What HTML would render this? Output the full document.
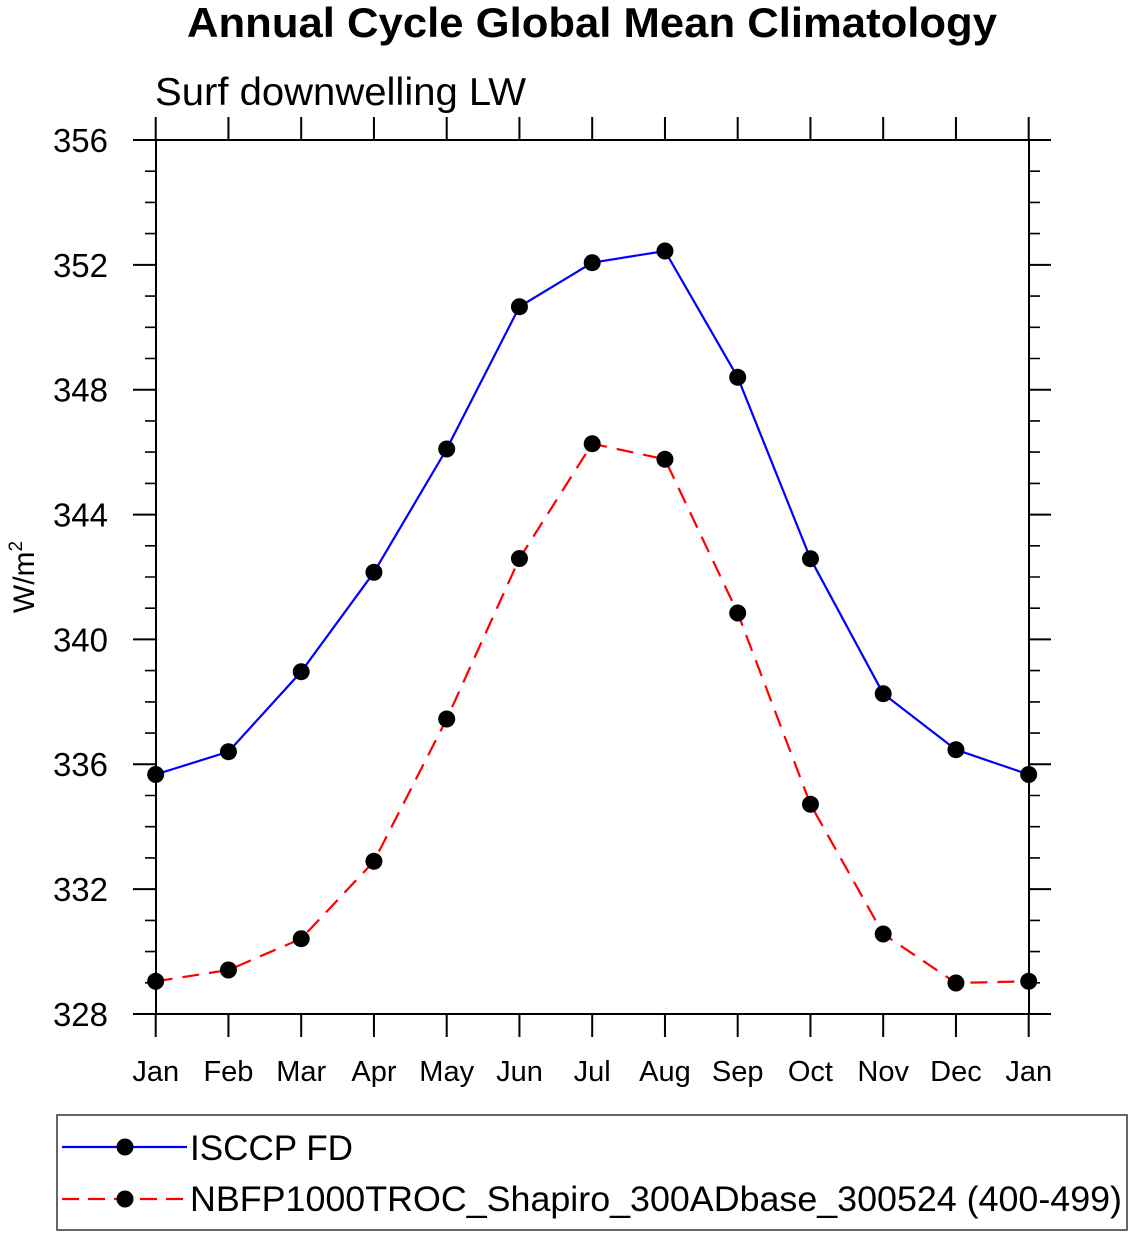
<!DOCTYPE html>
<html>
<head>
<meta charset="utf-8">
<style>
  html,body{margin:0;padding:0;background:#fff;}
  svg{display:block;}
  text{font-family:"Liberation Sans", Arial, Helvetica, sans-serif;fill:#000;}
</style>
</head>
<body>
<svg width="1133" height="1237" viewBox="0 0 1133 1237" xmlns="http://www.w3.org/2000/svg">
  <rect x="0" y="0" width="1133" height="1237" fill="#fff"/>

  <!-- Titles -->
  <text x="187" y="37" font-size="42" font-weight="bold" textLength="810" lengthAdjust="spacingAndGlyphs">Annual Cycle Global Mean Climatology</text>
  <text x="155" y="105" font-size="39" textLength="371" lengthAdjust="spacingAndGlyphs">Surf downwelling LW</text>

  <!-- Y axis label -->
  <text transform="translate(34,577) rotate(-90)" font-size="30" text-anchor="middle">W/m<tspan font-size="19" dy="-12">2</tspan></text>

  <!-- Plot frame -->
  <rect x="156" y="140" width="873" height="874" fill="none" stroke="#000" stroke-width="2"/>

  <!-- Y ticks -->
  <g stroke="#000" stroke-width="2">
    <line x1="133" y1="140" x2="156" y2="140"/>
    <line x1="133" y1="264.9" x2="156" y2="264.9"/>
    <line x1="133" y1="389.7" x2="156" y2="389.7"/>
    <line x1="133" y1="514.6" x2="156" y2="514.6"/>
    <line x1="133" y1="639.4" x2="156" y2="639.4"/>
    <line x1="133" y1="764.3" x2="156" y2="764.3"/>
    <line x1="133" y1="889.1" x2="156" y2="889.1"/>
    <line x1="133" y1="1014" x2="156" y2="1014"/>
    <line x1="1029" y1="140" x2="1051" y2="140"/>
    <line x1="1029" y1="264.9" x2="1051" y2="264.9"/>
    <line x1="1029" y1="389.7" x2="1051" y2="389.7"/>
    <line x1="1029" y1="514.6" x2="1051" y2="514.6"/>
    <line x1="1029" y1="639.4" x2="1051" y2="639.4"/>
    <line x1="1029" y1="764.3" x2="1051" y2="764.3"/>
    <line x1="1029" y1="889.1" x2="1051" y2="889.1"/>
    <line x1="1029" y1="1014" x2="1051" y2="1014"/>
  </g>
  <g stroke="#000" stroke-width="1.6">
    <path d="
      M145 171.2H156 M145 202.4H156 M145 233.6H156
      M145 296.1H156 M145 327.3H156 M145 358.5H156
      M145 420.9H156 M145 452.1H156 M145 483.4H156
      M145 545.8H156 M145 577.0H156 M145 608.2H156
      M145 670.6H156 M145 701.9H156 M145 733.1H156
      M145 795.5H156 M145 826.7H156 M145 857.9H156
      M145 920.4H156 M145 951.6H156 M145 982.8H156
      M1029 171.2H1040 M1029 202.4H1040 M1029 233.6H1040
      M1029 296.1H1040 M1029 327.3H1040 M1029 358.5H1040
      M1029 420.9H1040 M1029 452.1H1040 M1029 483.4H1040
      M1029 545.8H1040 M1029 577.0H1040 M1029 608.2H1040
      M1029 670.6H1040 M1029 701.9H1040 M1029 733.1H1040
      M1029 795.5H1040 M1029 826.7H1040 M1029 857.9H1040
      M1029 920.4H1040 M1029 951.6H1040 M1029 982.8H1040" fill="none"/>
  </g>

  <!-- X ticks top and bottom -->
  <g stroke="#000" stroke-width="2">
    <path d="
      M155.7 117V140 M228.45 117V140 M301.2 117V140 M373.95 117V140 M446.7 117V140 M519.45 117V140 M592.2 117V140
      M664.95 117V140 M737.7 117V140 M810.45 117V140 M883.2 117V140 M955.95 117V140 M1028.7 117V140
      M155.7 1014V1037 M228.45 1014V1037 M301.2 1014V1037 M373.95 1014V1037 M446.7 1014V1037 M519.45 1014V1037 M592.2 1014V1037
      M664.95 1014V1037 M737.7 1014V1037 M810.45 1014V1037 M883.2 1014V1037 M955.95 1014V1037 M1028.7 1014V1037" fill="none"/>
  </g>

  <!-- Y tick labels -->
  <g font-size="33" text-anchor="end">
    <text x="108" y="152">356</text>
    <text x="108" y="277">352</text>
    <text x="108" y="401.5">348</text>
    <text x="108" y="526.5">344</text>
    <text x="108" y="651.5">340</text>
    <text x="108" y="776">336</text>
    <text x="108" y="901">332</text>
    <text x="108" y="1026">328</text>
  </g>

  <!-- X tick labels -->
  <g font-size="29" text-anchor="middle">
    <text x="155.7" y="1081">Jan</text>
    <text x="228.45" y="1081">Feb</text>
    <text x="301.2" y="1081">Mar</text>
    <text x="373.95" y="1081">Apr</text>
    <text x="446.7" y="1081">May</text>
    <text x="519.45" y="1081">Jun</text>
    <text x="592.2" y="1081">Jul</text>
    <text x="664.95" y="1081">Aug</text>
    <text x="737.7" y="1081">Sep</text>
    <text x="810.45" y="1081">Oct</text>
    <text x="883.2" y="1081">Nov</text>
    <text x="955.95" y="1081">Dec</text>
    <text x="1028.7" y="1081">Jan</text>
  </g>

  <!-- Blue series -->
  <polyline fill="none" stroke="#0000ff" stroke-width="2.2" stroke-linejoin="round"
    points="155.7,774.5 228.45,751.7 301.2,671.7 373.95,572.3 446.7,449 519.45,306.7 592.2,262.7 664.95,251 737.7,377.3 810.45,558.7 883.2,693.7 955.95,749.7 1028.7,774.5"/>
  <!-- Red series -->
  <polyline fill="none" stroke="#ff0000" stroke-width="2.2" stroke-dasharray="17 10"
    points="155.7,981.3 228.45,970 301.2,938.7 373.95,861.3 446.7,719 519.45,558.5 592.2,443.7 664.95,459.3 737.7,613 810.45,804.3 883.2,934 955.95,983 1028.7,981.3"/>

  <!-- Markers -->
  <g fill="#000">
    <circle cx="155.7" cy="774.5" r="8.5"/>
    <circle cx="228.45" cy="751.7" r="8.5"/>
    <circle cx="301.2" cy="671.7" r="8.5"/>
    <circle cx="373.95" cy="572.3" r="8.5"/>
    <circle cx="446.7" cy="449" r="8.5"/>
    <circle cx="519.45" cy="306.7" r="8.5"/>
    <circle cx="592.2" cy="262.7" r="8.5"/>
    <circle cx="664.95" cy="251" r="8.5"/>
    <circle cx="737.7" cy="377.3" r="8.5"/>
    <circle cx="810.45" cy="558.7" r="8.5"/>
    <circle cx="883.2" cy="693.7" r="8.5"/>
    <circle cx="955.95" cy="749.7" r="8.5"/>
    <circle cx="1028.7" cy="774.5" r="8.5"/>

    <circle cx="155.7" cy="981.3" r="8.5"/>
    <circle cx="228.45" cy="970" r="8.5"/>
    <circle cx="301.2" cy="938.7" r="8.5"/>
    <circle cx="373.95" cy="861.3" r="8.5"/>
    <circle cx="446.7" cy="719" r="8.5"/>
    <circle cx="519.45" cy="558.5" r="8.5"/>
    <circle cx="592.2" cy="443.7" r="8.5"/>
    <circle cx="664.95" cy="459.3" r="8.5"/>
    <circle cx="737.7" cy="613" r="8.5"/>
    <circle cx="810.45" cy="804.3" r="8.5"/>
    <circle cx="883.2" cy="934" r="8.5"/>
    <circle cx="955.95" cy="983" r="8.5"/>
    <circle cx="1028.7" cy="981.3" r="8.5"/>
  </g>

  <!-- Legend -->
  <rect x="57" y="1115" width="1070" height="115" fill="none" stroke="#333" stroke-width="1.5"/>
  <line x1="62" y1="1147" x2="187" y2="1147" stroke="#0000ff" stroke-width="2.2"/>
  <circle cx="125" cy="1147" r="8.5" fill="#000"/>
  <line x1="62" y1="1199" x2="187" y2="1199" stroke="#ff0000" stroke-width="2.2" stroke-dasharray="17 9"/>
  <circle cx="125" cy="1199" r="8.5" fill="#000"/>
  <text x="190" y="1160" font-size="35" textLength="163" lengthAdjust="spacingAndGlyphs">ISCCP FD</text>
  <text x="190" y="1211" font-size="35" textLength="932" lengthAdjust="spacingAndGlyphs">NBFP1000TROC_Shapiro_300ADbase_300524 (400-499)</text>
</svg>
</body>
</html>
